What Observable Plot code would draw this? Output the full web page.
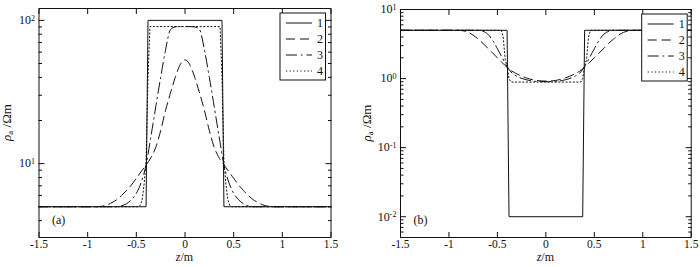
<!DOCTYPE html>
<html><head><meta charset="utf-8">
<script src="https://cdn.jsdelivr.net/npm/d3@7"></script>
<script src="https://cdn.jsdelivr.net/npm/@observablehq/plot@0.6"></script>
<style>
body{margin:0;background:#fff;}
#wrap{display:flex;width:700px;height:267px;}
svg{font-family:"Liberation Serif","Times New Roman",serif;}
</style></head><body><div id="wrap"></div>
<script>
// ---------- data ----------
const seriesNames = ["1", "2", "3", "4"];
const xTicks = [-1.5, -1, -0.5, 0, 0.5, 1, 1.5];

// panel (a)
const zA1 = [-1.5, -0.4, -0.38, 0.38, 0.4, 1.5];
const vA1 = [5, 5, 100, 100, 5, 5];
const zA2 = [-1.5, -0.9, -0.85, -0.8, -0.75, -0.7, -0.65, -0.6, -0.55, -0.5, -0.45, -0.4, -0.35, -0.3, -0.25, -0.2, -0.15, -0.1, -0.05, 0, 0.05, 0.1, 0.15, 0.2, 0.25, 0.3, 0.35, 0.4, 0.45, 0.5, 0.55, 0.6, 0.65, 0.7, 0.75, 0.8, 0.85, 0.9, 1.5];
const vA2 = [5, 5, 5.05, 5.15, 5.35, 5.6, 6.0, 6.5, 7.1, 7.9, 8.8, 9.8, 11, 13, 17, 23.5, 31, 40, 49, 53, 49, 40, 31, 23.5, 17, 13, 11, 9.8, 8.8, 7.9, 7.1, 6.5, 6.0, 5.6, 5.35, 5.15, 5.05, 5, 5];
const zA3 = [-1.5, -0.7, -0.65, -0.6, -0.55, -0.5, -0.45, -0.4, -0.35, -0.3, -0.25, -0.2, -0.15, -0.1, -0.05, 0, 0.05, 0.1, 0.15, 0.2, 0.25, 0.3, 0.35, 0.4, 0.45, 0.5, 0.55, 0.6, 0.65, 0.7, 1.5];
const vA3 = [5, 5, 5.08, 5.25, 5.6, 6.2, 7.4, 9.8, 15.5, 25, 40, 62, 86, 90, 90.5, 90.5, 90.5, 90, 86, 62, 40, 25, 15.5, 9.8, 7.4, 6.2, 5.6, 5.25, 5.08, 5, 5];
const zA4 = [-1.5, -0.48, -0.46, -0.44, -0.42, -0.4, -0.38, -0.36, 0.36, 0.38, 0.4, 0.42, 0.44, 0.46, 0.48, 1.5];
const vA4 = [5, 5, 5.1, 5.6, 7.2, 10.5, 40, 90.5, 90.5, 40, 10.5, 7.2, 5.6, 5.1, 5, 5];
const yMajorA = [10, 100];
const yMinorA = [4, 5, 6, 7, 8, 9, 20, 30, 40, 50, 60, 70, 80, 90];

// panel (b)
const zB1 = [-1.5, -0.4, -0.38, 0.38, 0.4, 1.5];
const vB1 = [5, 5, 0.01, 0.01, 5, 5];
const zB2 = [-1.5, -0.9, -0.85, -0.8, -0.75, -0.7, -0.65, -0.6, -0.55, -0.5, -0.45, -0.4, -0.35, -0.3, -0.2, -0.1, 0, 0.1, 0.2, 0.3, 0.35, 0.4, 0.45, 0.5, 0.55, 0.6, 0.65, 0.7, 0.75, 0.8, 0.85, 0.9, 1.5];
const vB2 = [5, 5, 4.9, 4.65, 4.25, 3.75, 3.25, 2.75, 2.35, 2.0, 1.7, 1.45, 1.28, 1.17, 1.02, 0.94, 0.92, 0.94, 1.02, 1.17, 1.28, 1.45, 1.7, 2.0, 2.35, 2.75, 3.25, 3.75, 4.25, 4.65, 4.9, 5, 5];
const zB3 = [-1.5, -0.7, -0.65, -0.6, -0.55, -0.5, -0.45, -0.4, -0.35, -0.3, -0.2, -0.1, 0, 0.1, 0.2, 0.3, 0.35, 0.4, 0.45, 0.5, 0.55, 0.6, 0.65, 0.7, 1.5];
const vB3 = [5, 5, 4.85, 4.4, 3.6, 2.7, 2.0, 1.5, 1.2, 1.08, 0.96, 0.91, 0.9, 0.91, 0.96, 1.08, 1.2, 1.5, 2.0, 2.7, 3.6, 4.4, 4.85, 5, 5];
const zB4 = [-1.5, -0.46, -0.44, -0.42, -0.4, -0.38, -0.36, 0.36, 0.38, 0.4, 0.42, 0.44, 0.46, 1.5];
const vB4 = [5, 5, 4.0, 1.9, 1.5, 1.0, 0.89, 0.89, 1.0, 1.5, 1.9, 4.0, 5, 5];
const yMajorB = [0.01, 0.1, 1, 10];
const yMinorB = [0.006, 0.007, 0.008, 0.009, 0.02, 0.03, 0.04, 0.05, 0.06, 0.07, 0.08, 0.09, 0.2, 0.3, 0.4, 0.5, 0.6, 0.7, 0.8, 0.9, 2, 3, 4, 5, 6, 7, 8, 9];
const expLabels = new Map([[0.01, "-2"], [0.1, "-1"], [1, "0"], [10, "1"], [100, "2"]]);

// ---------- styles ----------
const dashes = [null, "9,5", "11,4,1.5,4", "1.2,2.4"];
const curves = ["linear", "monotone-x", "monotone-x", "linear"];

const zip = (zs, vs) => zs.map((z, i) => ({z, v: vs[i]}));
const blank = () => "";

function panel({series, yDomain, majors, minors, mL, mR, mT, mB, tag, yLabelX, legendX}) {
  const W = 350, H = 267;
  const marks = [
    Plot.axisX({anchor: "bottom", ticks: xTicks, tickSize: 0, tickPadding: 2, tickFormat: d => String(d), fontSize: 11.5, label: null}),
    Plot.axisX({anchor: "bottom", ticks: xTicks, tickSize: -5, tickFormat: blank, label: null}),
    Plot.axisX({anchor: "top", ticks: xTicks, tickSize: -5, tickFormat: blank, label: null}),
    Plot.axisY({anchor: "left", ticks: majors, tickSize: 0, tickPadding: 4, tickFormat: d => "10^" + expLabels.get(d), fontSize: 12, label: null}),
    Plot.axisY({anchor: "left", ticks: majors, tickSize: -6, tickFormat: blank, label: null}),
    Plot.axisY({anchor: "left", ticks: minors, tickSize: -3.5, tickFormat: blank, label: null}),
    Plot.axisY({anchor: "right", ticks: majors, tickSize: -6, tickFormat: blank, label: null}),
    Plot.axisY({anchor: "right", ticks: minors, tickSize: -3.5, tickFormat: blank, label: null}),
    ...series.map(([zs, vs], i) => Plot.line(zip(zs, vs), {x: "z", y: "v", stroke: "#111", strokeWidth: 1, strokeDasharray: dashes[i], curve: curves[i]})),
    Plot.text([tag], {frameAnchor: "bottom-left", dx: 13, dy: -17, textAnchor: "start", lineAnchor: "middle", fontSize: 12, fill: "#111"}),
    Plot.frame({stroke: "#111", strokeWidth: 1})
  ];
  const svg = Plot.plot({
    width: W, height: H, marginLeft: mL, marginRight: mR, marginTop: mT, marginBottom: mB,
    style: {fontFamily: '"Liberation Serif","Times New Roman",serif', fontSize: "12px", color: "#111", background: "#fff", overflow: "visible"},
    x: {domain: [-1.5, 1.5]},
    y: {type: "log", domain: yDomain},
    marks
  });
  const s = d3.select(svg);
  // superscript exponents in y tick labels
  s.selectAll("text").each(function() {
    const t = d3.select(this);
    const m = /^10\^(.+)$/.exec(t.text());
    if (m) {
      const target = t.select("tspan").empty() ? t : t.select("tspan");
      target.text("10");
      target.append("tspan").attr("dy", "-0.45em").attr("font-size", "8px").text(m[1]);
    }
  });
  // y label
  const cy = (mT + (H - mB)) / 2;
  const yl = s.append("text").attr("transform", `translate(${yLabelX},${cy}) rotate(-90)`)
    .attr("text-anchor", "middle").attr("dominant-baseline", "middle").attr("font-size", 13).attr("fill", "#111");
  yl.append("tspan").attr("font-style", "italic").text("ρ");
  yl.append("tspan").attr("font-size", 9).attr("dy", 3).text("a");
  yl.append("tspan").attr("dy", -3).text(" /Ωm");
  // x label
  const cx = (mL + (W - mR)) / 2;
  const xl = s.append("text").attr("x", cx).attr("y", 261).attr("text-anchor", "middle").attr("font-size", 12).attr("fill", "#111");
  xl.append("tspan").attr("font-style", "italic").text("z");
  xl.append("tspan").text("/m");
  // legend
  const bx = legendX, by = mT + 5, bw = 45.5, bh = 67;
  const g = s.append("g");
  g.append("rect").attr("x", bx).attr("y", by).attr("width", bw).attr("height", bh).attr("fill", "#fff").attr("stroke", "#111").attr("stroke-width", 1);
  seriesNames.forEach((name, i) => {
    const yy = by + 10 + i * 16;
    g.append("line").attr("x1", bx + 6).attr("x2", bx + 32).attr("y1", yy).attr("y2", yy)
      .attr("stroke", "#111").attr("stroke-width", 1).attr("stroke-dasharray", dashes[i]);
    g.append("text").attr("x", bx + 43).attr("y", yy).attr("text-anchor", "end").attr("dominant-baseline", "central")
      .attr("font-size", 12).attr("fill", "#111").text(name);
  });
  return svg;
}

const wrap = document.getElementById("wrap");
wrap.appendChild(panel({
  series: [[zA1, vA1], [zA2, vA2], [zA3, vA3], [zA4, vA4]],
  yDomain: [3.05, 121], majors: yMajorA, minors: yMinorA,
  mL: 38.5, mR: 19.5, mT: 8, mB: 30, tag: "(a)", yLabelX: 8, legendX: 280
}));
wrap.appendChild(panel({
  series: [[zB1, vB1], [zB2, vB2], [zB3, vB3], [zB4, vB4]],
  yDomain: [0.005, 10], majors: yMajorB, minors: yMinorB,
  mL: 50, mR: 9.3, mT: 9, mB: 30, tag: "(b)", yLabelX: 18, legendX: 291.7
}));
</script></body></html>
